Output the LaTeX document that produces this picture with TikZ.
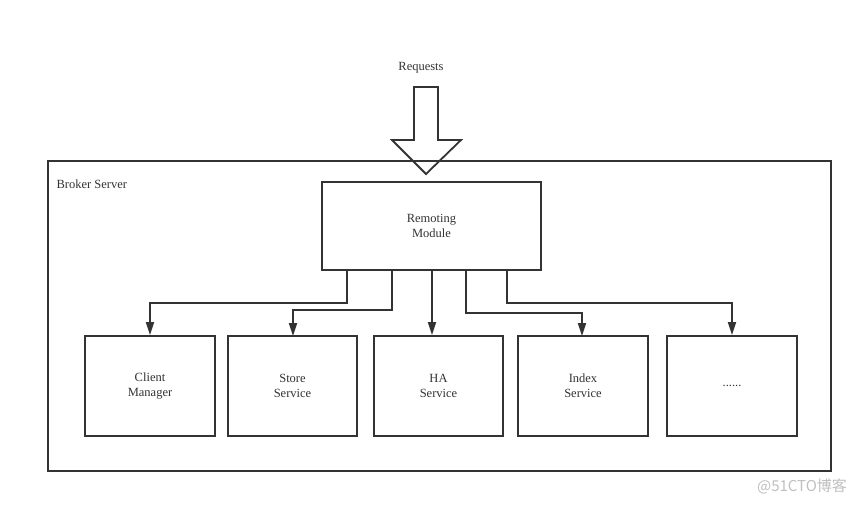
\documentclass[tikz,border=0pt]{standalone}
\usepackage{fontspec}
\setmainfont{Liberation Serif}
\newfontfamily\cjk{Noto Sans CJK SC}
\usetikzlibrary{arrows.meta}
\definecolor{ln}{HTML}{333333}
\begin{document}
\begin{tikzpicture}[x=1pt,y=-1pt,
  every node/.style={font=\fontsize{12.5}{15}\selectfont, text=ln, align=center},
  box/.style={draw=ln, line width=1.8pt, inner sep=0pt},
  conn/.style={draw=ln, line width=1.8pt, -{Triangle[length=13pt,width=8pt]}}]
\useasboundingbox (0,0) rectangle (863,504);
\node[box, minimum width=783pt, minimum height=310pt] (broker) at (439.5,316) {};
\node[anchor=west] (blabel) at (53,184) {Broker Server};
\node (req) at (421,67.5) {Requests};
\node[box, minimum width=219pt, minimum height=88pt] (rem) at (431.5,226) {Remoting\\Module};
\node[box, minimum width=130pt, minimum height=100pt] (c1) at (150,386) {Client\\Manager};
\node[box, minimum width=129pt, minimum height=100pt] (c2) at (292.5,386) {Store\\Service};
\node[box, minimum width=129pt, minimum height=100pt] (c3) at (438.5,386) {HA\\Service};
\node[box, minimum width=130pt, minimum height=100pt] (c4) at (583,386) {Index\\Service};
\node[box, minimum width=130pt, minimum height=100pt] (c5) at (732,386) {......};
% block arrow
\draw[draw=ln, line width=1.8pt, line join=miter]
  (414,87) -- (438,87) -- (438,140) -- (461,140) -- (426,174) -- (392,140) -- (414,140) -- cycle;
\coordinate (t1) at (347,270);
\draw[conn] (rem.south -| t1) |- (150,302.7) -- (c1.north);
\coordinate (t2) at (392,270);
\draw[conn] (rem.south -| t2) |- (293,310) -- (293,336);
\coordinate (t3) at (432,270);
\draw[conn] (rem.south -| t3) -- (t3 |- c3.north);
\coordinate (t4) at (466,270);
\draw[conn] (rem.south -| t4) |- (582,312.7) -- (582,336);
\coordinate (t5) at (507,270);
\draw[conn] (rem.south -| t5) |- (732,302.7) -- (c5.north);
\node[font=\cjk\fontsize{15}{17}\selectfont, text=black!25] (wm) at (802,486) {@51CTO博客};
\end{tikzpicture}
\end{document}
